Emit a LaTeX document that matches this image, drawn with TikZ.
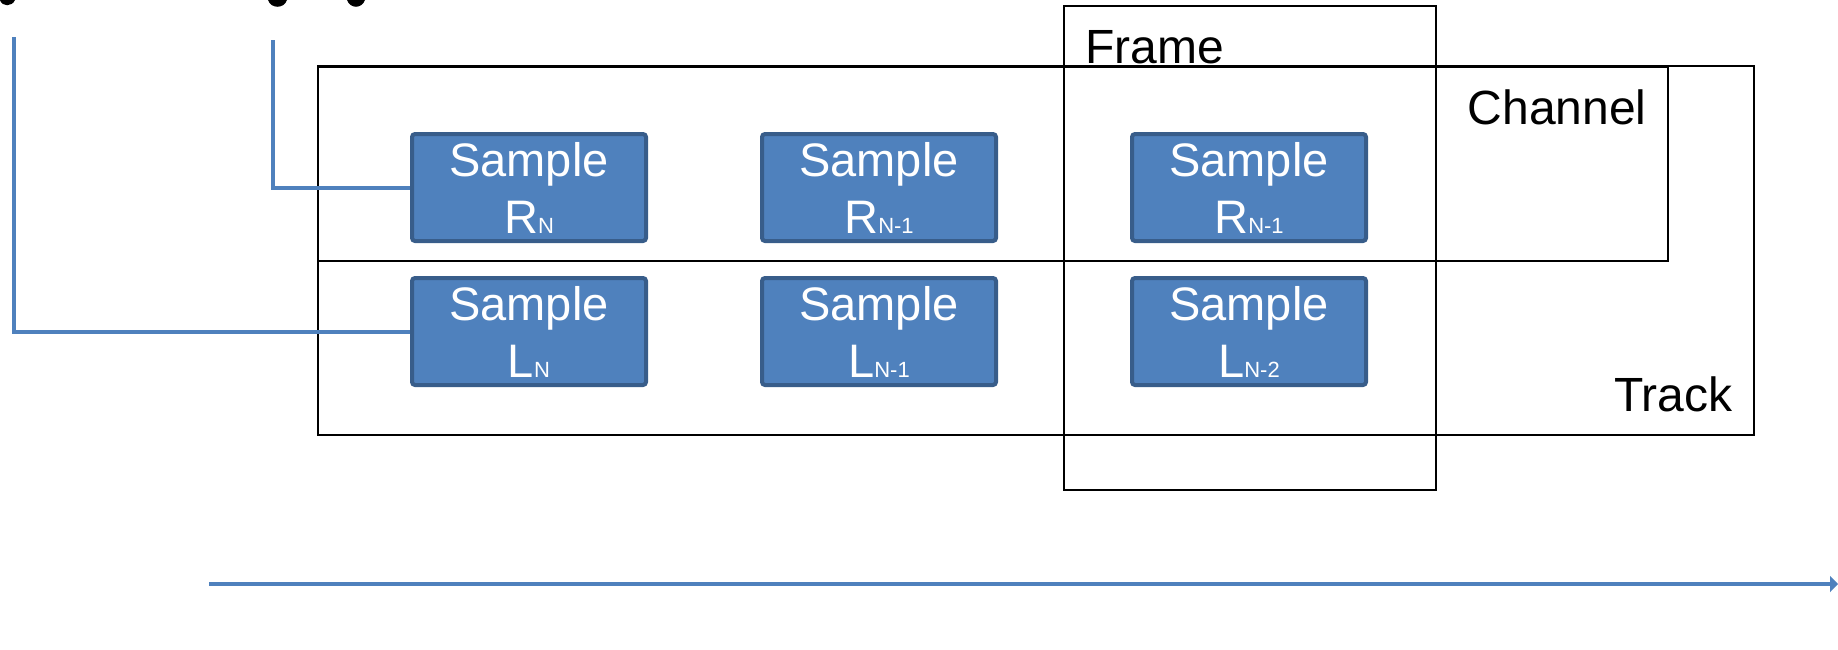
\documentclass[tikz,border=0pt]{standalone}
\usepackage{fontspec}
\setmainfont{Liberation Sans}
\usepackage{xcolor}
\usetikzlibrary{positioning, arrows.meta}

\definecolor{sampleblue}{HTML}{4F81BD}
\definecolor{sampleedge}{HTML}{385D8A}

\tikzset{
  samplebox/.style={draw=sampleedge, fill=sampleblue, line width=2pt, rounded corners=1.5pt,
    minimum width=117pt, minimum height=53.5pt, inner sep=0pt, text=white, align=center,
    font=\fontsize{23.5}{28.5}\selectfont},
  boxline/.style={draw=black, line width=1pt},
  wire/.style={draw=sampleblue, line width=2pt},
  boxlabel/.style={font=\fontsize{24}{24}\selectfont, inner sep=0pt}
}

\begin{document}
\begin{tikzpicture}[x=0.5pt, y=-0.5pt]
    \useasboundingbox (0,0) rectangle (1838,649);

    % Track, channel and frame
    \draw[boxline] (318,66) rectangle (1754,435);
    \draw[boxline] (318,67) rectangle (1668,261);
    \draw[boxline] (1064,6) rectangle (1436,490);
    \node[boxlabel, anchor=base west] (frame) at (1085,63) {Frame};
    \node[boxlabel, anchor=base east] (channel) at (1647,124) {Channel};
    \node[boxlabel, anchor=base east] (track) at (1733,411) {Track};

    % Samples, one column per step
    \foreach \x/\i/\rs/\ls in {529/1/N/N, 879/2/N-1/N-1, 1249/3/N-1/N-2} {
      \node[samplebox] (r\i) at (\x,187.5) {Sample\\R{\fontsize{11}{11}\selectfont \rs}};
      \node[samplebox] (l\i) at (\x,331.5) {Sample\\L{\fontsize{11}{11}\selectfont \ls}};
    }

    % Leads into the first samples
    \coordinate (lead l) at (14,37);
    \coordinate (lead r) at (273,40);
    \draw[wire] (lead l) |- (l1.west);
    \draw[wire] (lead r) |- (r1.west);

    % Cut-off marks on the top edge
    \fill (0,0) .. controls (2,7) and (12,7) .. (15,0) -- cycle;
    \fill (268,0) .. controls (271,9) and (284,9) .. (287,0) -- cycle;
    \fill (347,0) .. controls (350,9) and (362,9) .. (365,0) -- cycle;

    % Time axis
    \coordinate (time start) at (209,584);
    \coordinate (time end) at (1838,584);
    \draw[wire, -{Triangle[length=4pt, width=8pt]}] (time start) -- (time end);
  \end{tikzpicture}
\end{document}
